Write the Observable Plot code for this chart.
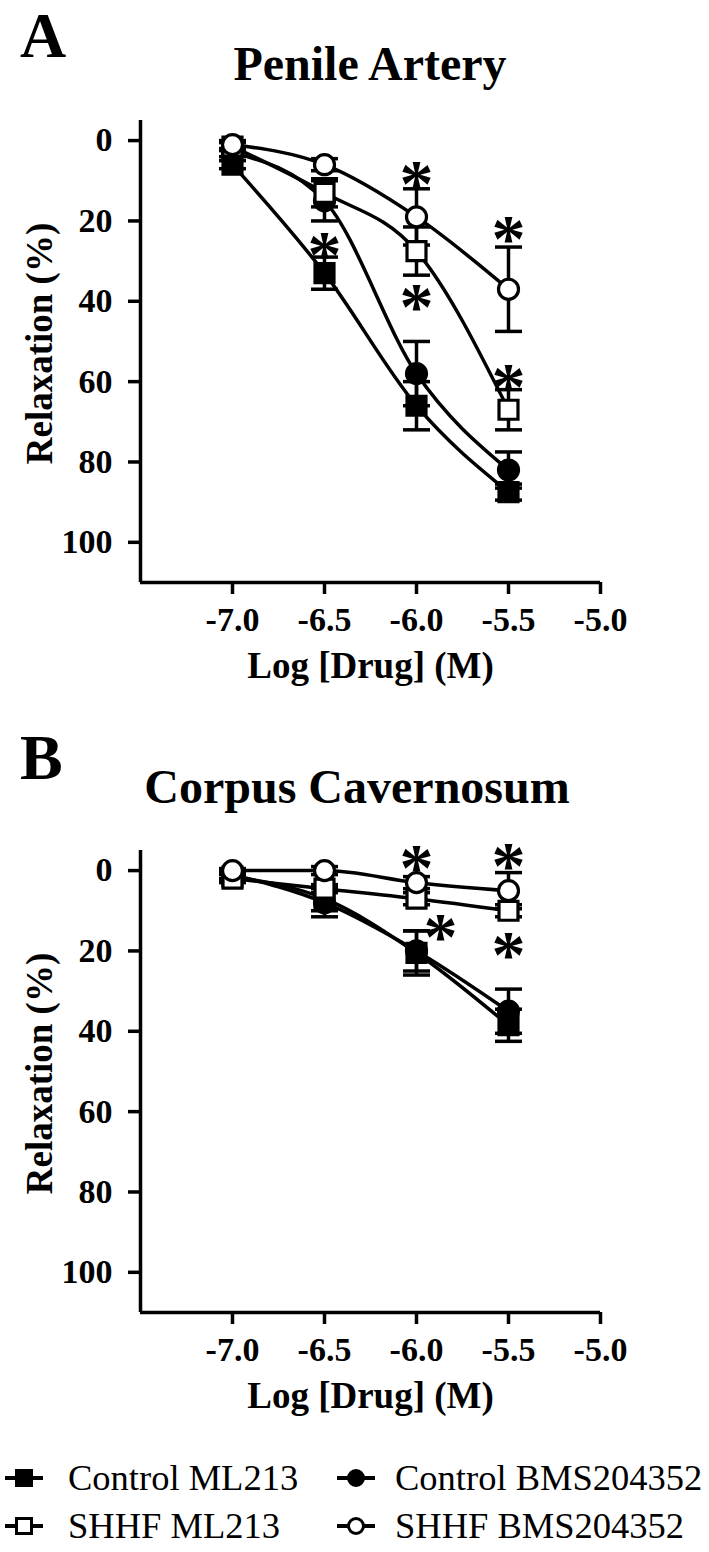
<!DOCTYPE html>
<html>
<head>
<meta charset="utf-8">
<script src="https://cdn.jsdelivr.net/npm/d3@7"></script>
<script src="https://cdn.jsdelivr.net/npm/@observablehq/plot@0.6"></script>
<style>
  html, body { margin: 0; padding: 0; background: white; }
  #root { position: relative; width: 709px; height: 1552px; overflow: hidden; background: white;
          font-family: 'Liberation Serif', 'Times New Roman', serif; color: black; }
  .abs { position: absolute; white-space: nowrap; }
  .letter { font-size: 64px; line-height: 64px; font-weight: bold; }
  .title { font-size: 48px; line-height: 48px; font-weight: bold; transform: translateX(-50%); }
  .legtext { font-size: 36.5px; line-height: 36px; font-weight: normal; }
  svg.plotsvg { position: absolute; left: 0; }
</style>
</head>
<body>
<div id="root"></div>
<script>
// ---------- data ----------
const doses = [-7.0, -6.5, -6.0, -5.5];
const seriesNames = ["Control ML213", "Control BMS204352", "SHHF ML213", "SHHF BMS204352"];
const xTicks = [-7.0, -6.5, -6.0, -5.5, -5.0];
const yTicks = [0, 20, 40, 60, 80, 100];
const xLabel = "Log [Drug] (M)";
const yLabel = "Relaxation (%)";
const panelTitles = ["Penile Artery", "Corpus Cavernosum"];
const panelLetters = ["A", "B"];

// Panel A: Penile Artery (mean, SEM)
const aControlML213 = [6, 33, 66, 87.5];
const aControlML213Err = [1, 4, 6, 2];
const aControlBMS = [3, 15, 58, 82];
const aControlBMSErr = [1, 5, 8, 4.5];
const aShhfML213 = [1.5, 13, 27.5, 67];
const aShhfML213Err = [1, 3.5, 6, 5];
const aShhfBMS = [1, 6, 19, 37];
const aShhfBMSErr = [1, 1.5, 7, 10.5];
const aStarX = [-6.5, -6.0, -6.0, -5.5, -5.5];
const aStarY = [25, 7.5, 38, 21, 58];

// Panel B: Corpus Cavernosum (mean, SEM)
const bControlML213 = [1.5, 7, 20.5, 38.5];
const bControlML213Err = [1, 3, 5.5, 4];
const bControlBMS = [1, 8, 20, 35];
const bControlBMSErr = [1, 3.5, 5, 5.5];
const bShhfML213 = [2, 4.5, 7, 10];
const bShhfML213Err = [1, 1, 1.5, 1.5];
const bShhfBMS = [0, 0, 3, 5];
const bShhfBMSErr = [0.5, 1, 1.5, 4.5];
const bStarX = [-6.0, -5.87, -5.5, -5.5];
const bStarY = [-4, 13, -4.5, 17.5];

// ---------- helpers ----------
const FONT = "'Liberation Serif', 'Times New Roman', serif";
const markerStyle = {
  "Control ML213": {symbol: "square", fill: "black", r: 10.7},
  "Control BMS204352": {symbol: "circle", fill: "black", r: 10},
  "SHHF ML213": {symbol: "square", fill: "white", r: 10.7},
  "SHHF BMS204352": {symbol: "circle", fill: "white", r: 10}
};
const capSymbol = {
  draw(context, size) {
    const w = Math.sqrt(size / Math.PI);
    context.moveTo(-w, 0);
    context.lineTo(w, 0);
  }
};

function buildRows(means, errs) {
  const rows = [];
  seriesNames.forEach((s, si) => {
    doses.forEach((x, i) => rows.push({series: s, x, y: means[si][i], e: errs[si][i]}));
  });
  return rows;
}

function makePanel(rows, starX, starY) {
  const stars = starX.map((x, i) => ({x, y: starY[i]}));
  const drawOrder = ["Control BMS204352", "Control ML213", "SHHF ML213", "SHHF BMS204352"];
  return Plot.plot({
    width: 709,
    height: 700,
    marginLeft: 140,
    marginRight: 109,
    marginTop: 120,
    marginBottom: 118,
    x: {domain: [-7.5, -5.0]},
    y: {domain: [-5, 110], reverse: true},
    style: {fontFamily: FONT, color: "black", background: "transparent", overflow: "visible"},
    marks: [
      Plot.axisX({ticks: xTicks, tickFormat: d => d.toFixed(1), tickSize: 12, tickPadding: 12,
                  strokeWidth: 3.5, fontSize: 34, fontWeight: "bold", label: null}),
      Plot.axisY({ticks: yTicks, tickFormat: d => String(d), tickSize: 12, tickPadding: 16,
                  strokeWidth: 3.5, fontSize: 34, fontWeight: "bold", label: null}),
      Plot.ruleX([-7.5], {y1: -5, y2: 110, strokeWidth: 3.5}),
      Plot.ruleY([110], {x1: -7.5, x2: -5.0, strokeWidth: 3.5}),
      Plot.text([xLabel], {text: d => d, frameAnchor: "bottom", dy: 84, fontSize: 37, fontWeight: "bold",
                           lineAnchor: "middle", textAnchor: "middle"}),
      Plot.text([yLabel], {text: d => d, frameAnchor: "left", dx: -100, dy: -8, rotate: -90, fontSize: 37,
                           fontWeight: "bold", textAnchor: "middle", lineAnchor: "middle"}),
      Plot.line(rows, {x: "x", y: "y", z: "series", curve: "monotone-x", stroke: "black", strokeWidth: 3.5}),
      Plot.ruleX(rows, {x: "x", y1: d => d.y - d.e, y2: d => d.y + d.e, stroke: "black", strokeWidth: 3.5}),
      Plot.dot(rows, {x: "x", y: d => d.y - d.e, symbol: capSymbol, r: 13.5, stroke: "black", strokeWidth: 3.5, fill: "none"}),
      Plot.dot(rows, {x: "x", y: d => d.y + d.e, symbol: capSymbol, r: 13.5, stroke: "black", strokeWidth: 3.5, fill: "none"}),
      ...drawOrder.map(s => Plot.dot(rows.filter(d => d.series === s), {
        x: "x", y: "y", symbol: markerStyle[s].symbol, r: markerStyle[s].r,
        fill: markerStyle[s].fill, stroke: "black", strokeWidth: 3.2
      })),
      Plot.text(stars, {x: "x", y: "y", text: () => "*", fontSize: 68, fontWeight: "bold",
                        lineAnchor: "middle", textAnchor: "middle", dy: 14})
    ]
  });
}

const root = document.getElementById("root");

const rowsA = buildRows([aControlML213, aControlBMS, aShhfML213, aShhfBMS],
                        [aControlML213Err, aControlBMSErr, aShhfML213Err, aShhfBMSErr]);
const rowsB = buildRows([bControlML213, bControlBMS, bShhfML213, bShhfBMS],
                        [bControlML213Err, bControlBMSErr, bShhfML213Err, bShhfBMSErr]);

const svgA = makePanel(rowsA, aStarX, aStarY);
svgA.classList.add("plotsvg");
svgA.style.top = "0px";
root.appendChild(svgA);

const svgB = makePanel(rowsB, bStarX, bStarY);
svgB.classList.add("plotsvg");
svgB.style.top = "730px";
root.appendChild(svgB);

function addText(txt, cls, left, top) {
  const d = document.createElement("div");
  d.className = "abs " + cls;
  d.textContent = txt;
  d.style.left = left + "px";
  d.style.top = top + "px";
  root.appendChild(d);
  return d;
}

addText(panelLetters[0], "letter", 20, 3.5);
addText(panelTitles[0], "title", 370, 40);
addText(panelLetters[1], "letter", 20, 726);
addText(panelTitles[1], "title", 357, 763);

// legend
const legendPos = [
  {sx: 0, tx: 68, cy: 1478},
  {sx: 332, tx: 395, cy: 1478},
  {sx: 0, tx: 68, cy: 1526},
  {sx: 332, tx: 395, cy: 1526}
];
const legendOrder = ["Control ML213", "Control BMS204352", "SHHF ML213", "SHHF BMS204352"];
legendOrder.forEach((s, i) => {
  const p = legendPos[i];
  const ns = "http://www.w3.org/2000/svg";
  const svg = document.createElementNS(ns, "svg");
  svg.setAttribute("width", 50);
  svg.setAttribute("height", 30);
  svg.style.position = "absolute";
  svg.style.left = p.sx + "px";
  svg.style.top = (p.cy - 15) + "px";
  const line = document.createElementNS(ns, "line");
  line.setAttribute("x1", 5); line.setAttribute("x2", 43);
  line.setAttribute("y1", 15); line.setAttribute("y2", 15);
  line.setAttribute("stroke", "black"); line.setAttribute("stroke-width", 4);
  svg.appendChild(line);
  const m = markerStyle[s];
  let shape;
  if (m.symbol === "square") {
    shape = document.createElementNS(ns, "rect");
    shape.setAttribute("x", 24 - 7.5); shape.setAttribute("y", 15 - 7.5);
    shape.setAttribute("width", 15); shape.setAttribute("height", 15);
  } else {
    shape = document.createElementNS(ns, "circle");
    shape.setAttribute("cx", 24); shape.setAttribute("cy", 15); shape.setAttribute("r", 7.5);
  }
  shape.setAttribute("fill", m.fill);
  shape.setAttribute("stroke", "black");
  shape.setAttribute("stroke-width", 3);
  svg.appendChild(shape);
  root.appendChild(svg);
  addText(s, "legtext", p.tx, p.cy + 12 - 30);
});
</script>
</body>
</html>
